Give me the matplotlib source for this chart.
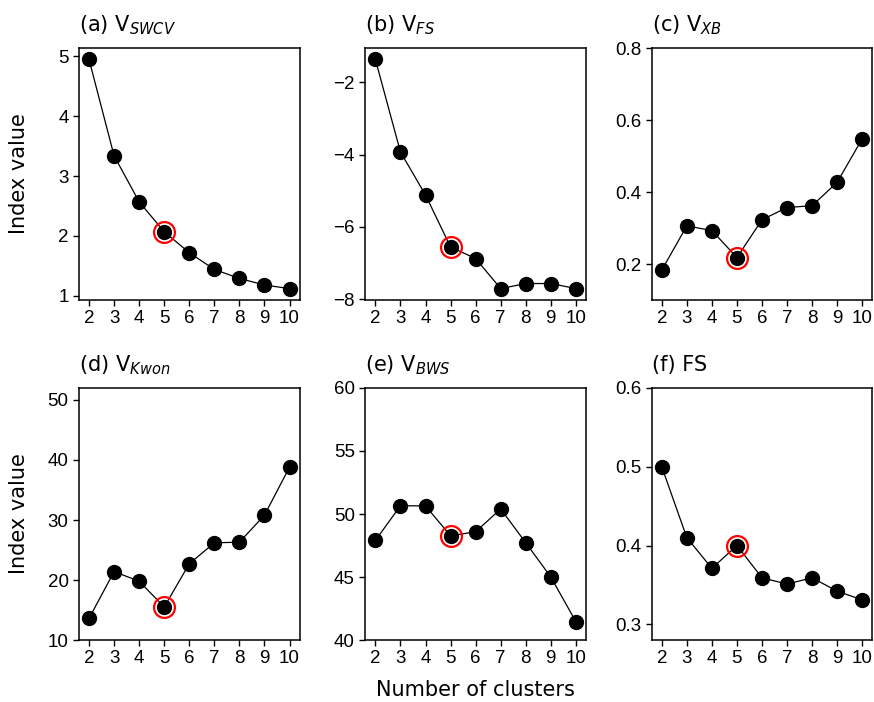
import matplotlib
matplotlib.use("Agg")
import matplotlib.pyplot as plt

clusters = [2, 3, 4, 5, 6, 7, 8, 9, 10]

v_swcv = [4.95, 3.34, 2.57, 2.07, 1.72, 1.44, 1.29, 1.18, 1.12]
v_fs = [-1.37, -3.93, -5.12, -6.56, -6.88, -7.71, -7.57, -7.57, -7.71]
v_xb = [0.183, 0.306, 0.293, 0.218, 0.323, 0.357, 0.362, 0.427, 0.548]
v_kwon = [13.6, 21.4, 19.8, 15.5, 22.7, 26.2, 26.3, 30.8, 38.8]
v_bws = [47.9, 50.66, 50.64, 48.27, 48.59, 50.4, 47.72, 45.0, 41.46]
fs = [0.50, 0.41, 0.371, 0.40, 0.359, 0.351, 0.359, 0.342, 0.331]

titles = [r"(a) V$_{SWCV}$", r"(b) V$_{FS}$", r"(c) V$_{XB}$",
          r"(d) V$_{Kwon}$", r"(e) V$_{BWS}$", "(f) FS"]
series = [v_swcv, v_fs, v_xb, v_kwon, v_bws, fs]
ylims = [None, None, (0.1, 0.8), (10, 52), (40, 60), (0.28, 0.6)]
yticks = [[1, 2, 3, 4, 5], [-8, -6, -4, -2], [0.2, 0.4, 0.6, 0.8],
          [10, 20, 30, 40, 50], [40, 45, 50, 55, 60], [0.3, 0.4, 0.5, 0.6]]
best_k = 5

fig, axes = plt.subplots(2, 3, figsize=(8.74, 7.02), dpi=100)
fig.subplots_adjust(left=0.0904, right=0.998, top=0.9316, bottom=0.0883,
                    wspace=0.2986, hspace=0.349)

for i, ax in enumerate(axes.flat):
    vals = series[i]
    ax.plot(clusters, vals, color="black", lw=0.9, marker="o", ms=10,
            mfc="black", mec="black")
    j = clusters.index(best_k)
    ax.plot(clusters[j], vals[j], marker="o", ms=15, mfc="none",
            mec="red", mew=1.6, ls="none")
    if ylims[i] is not None:
        ax.set_ylim(*ylims[i])
    ax.set_yticks(yticks[i])
    ax.set_xticks(clusters)
    ax.set_title(titles[i], loc="left", fontsize=15, pad=12)
    for sp in ax.spines.values():
        sp.set_linewidth(1.1)
    ax.tick_params(width=1.0, length=4, labelsize=13.5)
    for lab in ax.get_xticklabels() + ax.get_yticklabels():
        lab.set_fontfamily("Liberation Sans")

for ax in axes[:, 0]:
    ax.set_ylabel("Index value", fontsize=15)
    ax.yaxis.set_label_coords(-0.225, 0.5)
axes[1, 1].set_xlabel("Number of clusters", fontsize=15, labelpad=9)

fig.savefig("out.png", dpi=100)
